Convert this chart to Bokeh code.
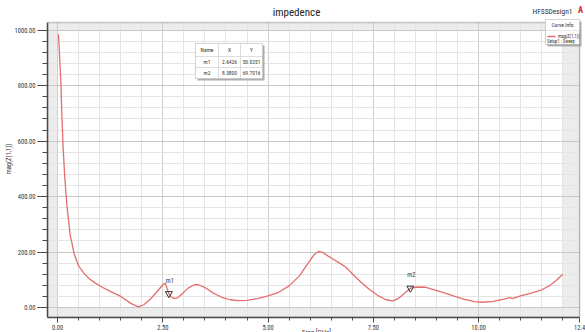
import numpy as np
from bokeh.plotting import figure
from bokeh.models import Range1d, BoxAnnotation, Label, FixedTicker, ColumnDataSource, Title
from bokeh.core.properties import value
from bokeh.embed import file_html
from bokeh.resources import INLINE

# ---------------- data ----------------
freq = [0.02, 0.05, 0.08, 0.10, 0.13, 0.17, 0.22, 0.30, 0.40, 0.50, 0.62, 0.75, 0.90,
        1.05, 1.25, 1.50, 1.75, 1.92, 2.05, 2.20, 2.35, 2.50, 2.56, 2.60, 2.64, 2.70,
        2.78, 2.85, 2.95, 3.10, 3.25, 3.35, 3.50, 3.70, 3.90, 4.10, 4.30, 4.50, 4.75,
        5.00, 5.25, 5.50, 5.75, 5.95, 6.10, 6.20, 6.28, 6.40, 6.55, 6.70, 6.85, 7.00,
        7.20, 7.40, 7.60, 7.80, 7.96, 8.10, 8.25, 8.38, 8.55, 8.75, 8.95, 9.15, 9.40,
        9.65, 9.90, 10.10, 10.35, 10.60, 10.75, 10.80, 11.00, 11.25, 11.50, 11.70,
        11.85, 12.00]
mag_z = [985, 900, 800, 700, 580, 470, 370, 260, 190, 150, 124, 104, 88,
         74, 58, 40, 14, 2, 10, 30, 55, 82, 88, 70, 50, 38,
         32, 35, 48, 70, 82, 82, 72, 52, 37, 28, 25, 26, 32,
         42, 55, 78, 115, 160, 192, 202, 200, 188, 174, 160, 145, 122,
         92, 66, 44, 28, 24, 33, 52, 69.7, 74, 73, 64, 55, 42,
         30, 21, 19, 22, 30, 36, 32, 42, 52, 64, 80,
         98, 120]
marker_names = ["m1", "m2"]
marker_x = [2.6426, 8.3800]
marker_y = [50.0251, 69.7016]
x_ticks = [0.0, 2.5, 5.0, 7.5, 10.0, 12.4]
x_tick_labels = ["0.00", "2.50", "5.00", "7.50", "10.00", "12.4"]
y_ticks = [0, 200, 400, 600, 800, 1000]
y_tick_labels = ["0.00", "200.00", "400.00", "600.00", "800.00", "1000.00"]
title_text = "impedence"
design_text = "HFSSDesign1"
x_label = "Freq [GHz]"
y_label = "mag(Z(1,1))"
sweep_text = "Setup1 : Sweep"

# plot-box extents (data units) and the full frame extents around them
X_START, X_BOX_END, X_END = -0.24, 12.4, 12.54
Y_START, Y_BOX_TOP, Y_END = -36, 1028, 1107

FONT = "'Liberation Sans Narrow', 'Roboto Condensed', 'Liberation Sans', sans-serif"
CURVE = "#e36e6e"
DARK = "#4a4a4a"

p = figure(width=585, height=332, output_backend="svg", toolbar_location=None,
           x_range=Range1d(X_START, X_END), y_range=Range1d(Y_START, Y_END),
           min_border_left=47, min_border_right=0, min_border_top=0, min_border_bottom=15)
p.background_fill_color = "white"
p.border_fill_color = "white"
p.outline_line_color = None

# x-axis title, half cut by the page bottom like the original
p.add_layout(Title(text=x_label, text_font=FONT, text_font_size="7px",
                   text_font_style="normal", text_color="#333333", align="center",
                   vertical_align="middle", offset=-10, standoff=-10), "below")

# shaded regions outside the data extent
for kw in (dict(right=0, top=Y_BOX_TOP), dict(left=12.0, right=X_BOX_END, top=Y_BOX_TOP),
           dict(top=-2, right=X_BOX_END), dict(bottom=1000, top=Y_BOX_TOP, right=X_BOX_END)):
    p.add_layout(BoxAnnotation(fill_color="#ececec", fill_alpha=1.0, line_alpha=0,
                               level="image", **kw))

# axes & ticks
p.xaxis.ticker = FixedTicker(ticks=x_ticks, minor_ticks=list(np.arange(0, 12.01, 0.5)))
p.yaxis.ticker = FixedTicker(ticks=y_ticks, minor_ticks=list(np.arange(0, 1001, 40)))
p.xaxis.major_label_overrides = {t: l for t, l in zip(x_ticks, x_tick_labels)}
p.yaxis.major_label_overrides = {t: l for t, l in zip(y_ticks, y_tick_labels)}
p.xaxis.bounds = (X_START, X_BOX_END)
p.yaxis.bounds = (Y_START, Y_BOX_TOP)
for ax in (p.xaxis, p.yaxis):
    ax.axis_line_color = DARK
    ax.axis_line_width = 1.5
    ax.major_tick_line_color = DARK
    ax.minor_tick_line_color = DARK
    ax.major_tick_in = 0
    ax.minor_tick_in = 0
    ax.major_label_text_font = FONT
    ax.major_label_text_font_size = "6.5px"
    ax.major_label_text_color = "#333333"
p.yaxis.major_tick_out = 10
p.yaxis.minor_tick_out = 5
p.yaxis.major_label_standoff = 2
p.yaxis.axis_label = y_label
p.yaxis.axis_label_text_font = FONT
p.yaxis.axis_label_text_font_size = "6.5px"
p.yaxis.axis_label_text_font_style = "normal"
p.yaxis.axis_label_text_color = "#333333"
p.yaxis.axis_label_standoff = -1
p.xaxis.major_tick_out = 5
p.xaxis.minor_tick_out = 3
p.xaxis.major_label_standoff = 2

p.xgrid.grid_line_color = "#cfcfcf"
p.ygrid.grid_line_color = "#c8c8c8"
p.xgrid.minor_grid_line_color = "#e4e4e4"
p.ygrid.minor_grid_line_color = "#e4e4e4"

# white margins above / right of the plot box (hide grid lines there)
p.add_layout(BoxAnnotation(bottom=Y_BOX_TOP, fill_color="white", fill_alpha=1.0, line_alpha=0))
p.add_layout(BoxAnnotation(left=X_BOX_END, fill_color="white", fill_alpha=1.0, line_alpha=0))
# plot-box border (top and right edges)
p.add_layout(BoxAnnotation(right=X_BOX_END, top=Y_BOX_TOP, fill_alpha=0,
                           line_color=DARK, line_width=1.5))

# curve
src = ColumnDataSource(dict(x=freq, y=mag_z))
p.line("x", "y", source=src, line_color=CURVE, line_width=1.3)

# markers
msrc = ColumnDataSource(dict(x=marker_x, y=marker_y, name=marker_names))
p.scatter("x", "y", source=msrc, marker="inverted_triangle", size=7,
          fill_alpha=0, line_color="#333333", line_width=1)
p.text("x", "y", text="name", source=msrc, y_offset=-9, x_offset=1,
       text_font=value(FONT), text_font_size="6.5px", text_color="#333333",
       text_align="center", text_baseline="bottom")


def lab(x, y, text, size, color="#333333", align="center", baseline="middle", style="normal"):
    p.add_layout(Label(x=x, y=y, x_units="screen", y_units="screen", text=text,
                       text_font=FONT, text_font_size=f"{size}px", text_color=color,
                       text_align=align, text_baseline=baseline, text_font_style=style))


def box(l, r, b, t, fill="white", line="#8a8a8a", lw=1.0, alpha=1.0):
    p.add_layout(BoxAnnotation(left=l, right=r, bottom=b, top=t,
                               left_units="screen", right_units="screen",
                               bottom_units="screen", top_units="screen",
                               fill_color=fill, fill_alpha=alpha,
                               line_color=line, line_width=lw))


# title texts (screen px relative to the frame: x from left edge, y from bottom edge)
lab(249, 305, title_text, 11, color="#222222")
lab(505, 306, design_text, 7.5)
lab(533, 308, "A", 8.5, color="#d42020", style="bold")

# marker table
cols = [148, 171, 193, 215]
rows = [274, 261, 250, 239]
box(cols[0] + 2, cols[-1] + 2, rows[-1] - 2, rows[0] - 2, fill="#9a9a9a", line=None, lw=0, alpha=0.8)
box(cols[0], cols[-1], rows[-1], rows[0], line="#666666", lw=1.2)
for i in range(3):
    for j in range(3):
        box(cols[j], cols[j + 1], rows[i + 1], rows[i], fill="white", line="#9a9a9a", lw=0.8)
header = ["Name", "X", "Y"]
for j in range(3):
    lab((cols[j] + cols[j + 1]) / 2, (rows[0] + rows[1]) / 2, header[j], 5.5)
for i, (n, mx, my) in enumerate(zip(marker_names, marker_x, marker_y)):
    yc = (rows[i + 1] + rows[i + 2]) / 2
    lab((cols[0] + cols[1]) / 2, yc, n, 5.5)
    lab((cols[1] + cols[2]) / 2, yc, f"{mx:.4f}", 5.5)
    lab((cols[2] + cols[3]) / 2, yc, f"{my:.4f}", 5.5)

# curve info box
box(500, 534, 271, 296, fill="#9a9a9a", line=None, lw=0, alpha=0.8)
box(498, 532, 273, 298, line="#666666", lw=1.2)
box(498, 532, 287, 298, line="#9a9a9a", lw=0.8)
lab(515, 292.5, "Curve Info", 5.5)
box(500, 508, 280.3, 281.7, fill=CURVE, line=None, lw=0)
lab(510.5, 281, y_label, 4.6, align="left")
lab(499.5, 276, sweep_text, 4.6, align="left")

open("out.html", "w").write(file_html(p, INLINE))
